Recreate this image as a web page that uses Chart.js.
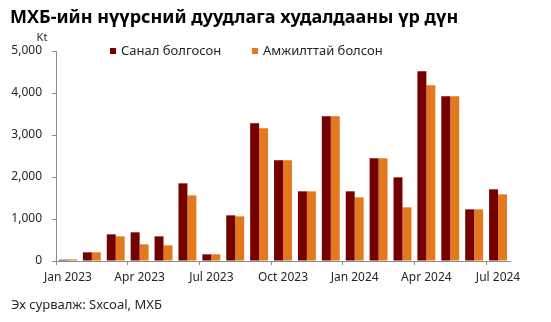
<!DOCTYPE html>
<html>
<head>
<meta charset="utf-8">
<script src="https://cdn.jsdelivr.net/npm/chart.js@4"></script>
<style>
  html, body { margin: 0; padding: 0; background: #fff; }
  #wrap { width: 551px; height: 322px; }
</style>
</head>
<body>
<div id="wrap"><canvas id="chart" width="551" height="322"></canvas></div>
<script>
// months Jan 2023 - Jul 2024
const months = ["Jan 2023", "Feb 2023", "Mar 2023", "Apr 2023", "May 2023", "Jun 2023",
  "Jul 2023", "Aug 2023", "Sep 2023", "Oct 2023", "Nov 2023", "Dec 2023",
  "Jan 2024", "Feb 2024", "Mar 2024", "Apr 2024", "May 2024", "Jun 2024", "Jul 2024"];

// thousand tonnes
const offered = [30, 206, 635, 683, 587, 1849, 159, 1087, 3278, 2397, 1659, 3444,
  1659, 2444, 1992, 4516, 3921, 1230, 1706];
const sold = [40, 206, 587, 397, 373, 1563, 159, 1063, 3159, 2397, 1659, 3444,
  1516, 2444, 1278, 4183, 3921, 1230, 1587];

const seriesNames = ["Санал болгосон", "Амжилттай болсон"];
const yTicks = [0, 1000, 2000, 3000, 4000, 5000];

const titleText = "МХБ-ийн нүүрсний дуудлага худалдааны үр дүн";
const unitText = "Kt";
const sourceText = "Эх сурвалж: Sxcoal, МХБ";

const FONT = "'Noto Sans', 'Open Sans', sans-serif";
const DARK = "#760000";
const ORANGE = "#E3791E";
const AXIS = "#8C8C8C";

// title, unit, legend and source line
const extras = {
  id: "extras",
  afterDraw(chart) {
    const ctx = chart.ctx;
    ctx.save();
    ctx.textBaseline = "alphabetic";
    ctx.fillStyle = "#000";
    ctx.font = "bold 18px " + FONT;
    ctx.textAlign = "left";
    ctx.fillText(titleText, 10, 23);

    ctx.fillStyle = "#262626";
    ctx.font = "11px " + FONT;
    ctx.textAlign = "center";
    ctx.fillText(unitText, 42, 41);

    ctx.font = "13px " + FONT;
    ctx.textAlign = "left";
    const legendX = [110, 252];
    chart.data.datasets.forEach((ds, i) => {
      ctx.fillStyle = ds.backgroundColor;
      ctx.fillRect(legendX[i], 48, 6, 6);
      ctx.fillStyle = "#262626";
      ctx.fillText(ds.label, legendX[i] + 11, 55);
    });

    ctx.font = "13px " + FONT;
    ctx.fillText(sourceText, 11, 309);
    ctx.restore();
  }
};

new Chart(document.getElementById("chart"), {
  type: "bar",
  data: {
    labels: months,
    datasets: [
      { label: seriesNames[0], data: offered, backgroundColor: DARK },
      { label: seriesNames[1], data: sold, backgroundColor: ORANGE }
    ]
  },
  options: {
    responsive: false,
    animation: false,
    layout: { padding: { left: 0, right: 41, top: 51, bottom: 37 } },
    datasets: { bar: { categoryPercentage: 0.75, barPercentage: 1.0 } },
    plugins: { legend: { display: false }, tooltip: { enabled: false } },
    scales: {
      x: {
        afterFit(s) { s.height = 24; },
        grid: {
          offset: true,
          drawOnChartArea: false,
          tickLength: 4,
          color: (c) => (c.index % 3 === 0 ? AXIS : "rgba(0,0,0,0)")
        },
        border: { color: AXIS },
        ticks: {
          autoSkip: false,
          maxRotation: 0,
          padding: 5,
          color: "#262626",
          font: { family: FONT, size: 12 },
          callback: (v, i) => (i % 3 === 0 ? months[i] : "")
        }
      },
      y: {
        min: 0,
        max: 5000,
        afterFit(s) { s.width = 56; },
        afterBuildTicks(s) { s.ticks = yTicks.map(v => ({ value: v })); },
        grid: { drawOnChartArea: false, tickLength: 4, color: AXIS },
        border: { color: AXIS },
        ticks: {
          padding: 10,
          color: "#262626",
          font: { family: FONT, size: 12 },
          callback: (v) => v.toLocaleString("en-US")
        }
      }
    }
  },
  plugins: [extras]
});
</script>
</body>
</html>
